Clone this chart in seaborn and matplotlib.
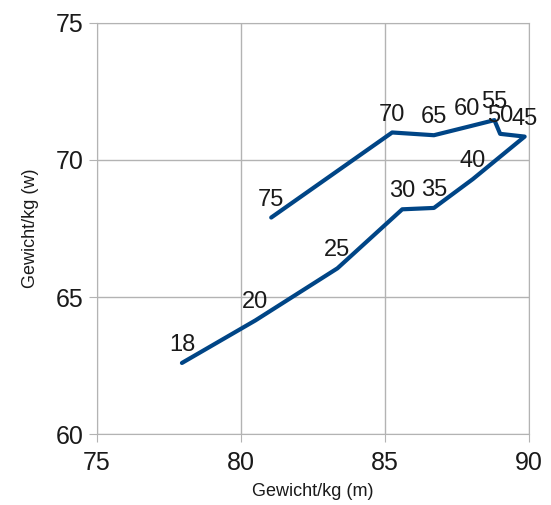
import matplotlib
matplotlib.use("Agg")
import matplotlib.pyplot as plt
import seaborn as sns
import pandas as pd

# age groups and average weights (men on x, women on y)
ages = ["18", "20", "25", "30", "35", "40", "45", "50", "55", "60", "65", "70", "75"]
weight_m = [77.95, 80.5, 83.35, 85.6, 86.7, 88.05, 89.85, 89.0, 88.8, 87.85, 86.7, 85.25, 81.05]
weight_w = [62.6, 64.15, 66.05, 68.2, 68.25, 69.3, 70.85, 70.95, 71.45, 71.2, 70.9, 71.0, 67.9]

LINE_COLOR = "#004586"
GRID_COLOR = "#b3b3b3"


def main():
    df = pd.DataFrame({"age": ages, "m": weight_m, "w": weight_w})

    sns.set_style("white")
    plt.rcParams["font.family"] = ["Liberation Sans", "DejaVu Sans"]

    fig, ax = plt.subplots(figsize=(5.51, 5.05), dpi=100)
    fig.subplots_adjust(left=0.176, right=0.96, top=0.955, bottom=0.14)

    sns.lineplot(data=df, x="m", y="w", sort=False, color=LINE_COLOR,
                 linewidth=3, ax=ax, estimator=None)

    for _, row in df.iterrows():
        ax.annotate(row["age"], (row["m"], row["w"]), xytext=(0, 5),
                    textcoords="offset points", ha="center", va="bottom",
                    fontsize=17, color="#1a1a1a")

    ax.set_xlim(75, 90)
    ax.set_ylim(60, 75)
    ax.set_xticks([75, 80, 85, 90])
    ax.set_yticks([60, 65, 70, 75])
    ax.grid(True, color=GRID_COLOR, linewidth=1)
    ax.tick_params(axis="both", length=6, color=GRID_COLOR, labelsize=18,
                   labelcolor="#1a1a1a", direction="out", bottom=True, left=True)
    ax.tick_params(axis="x", pad=6)
    for s in ax.spines.values():
        s.set_color(GRID_COLOR)
    ax.set_xlabel("Gewicht/kg (m)", fontsize=13, color="#1a1a1a", labelpad=6)
    ax.set_ylabel("Gewicht/kg (w)", fontsize=13, color="#1a1a1a", labelpad=12)

    fig.savefig("out.png", dpi=100)


if __name__ == "__main__":
    main()
